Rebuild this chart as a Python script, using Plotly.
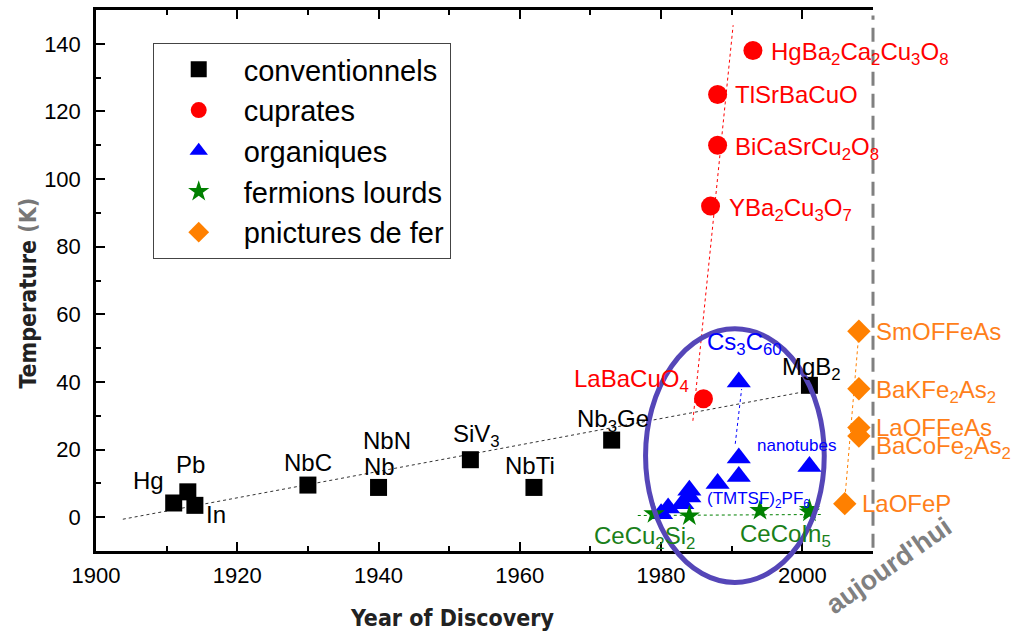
import plotly.graph_objects as go

# ---------------- data ----------------
X_RANGE = [1900, 2010]
Y_RANGE = [-10, 150]

conv_year = [1911, 1913, 1914, 1930, 1940, 1953, 1962, 1973, 2001]
conv_tc = [4.2, 7.5, 3.5, 9.5, 8.8, 17, 8.8, 22.8, 39]
conv_name = ["Hg", "Pb", "In", "NbC", "Nb", "SiV<sub>3</sub>", "NbTi",
             "Nb<sub>3</sub>Ge", "MgB<sub>2</sub>"]

cup_year = [1986, 1987, 1988, 1988, 1993]
cup_tc = [35, 92, 110, 125, 138]
cup_name = ["LaBaCuO<sub>4</sub>", "YBa<sub>2</sub>Cu<sub>3</sub>O<sub>7</sub>",
            "BiCaSrCu<sub>2</sub>O<sub>8</sub>", "TlSrBaCuO",
            "HgBa<sub>2</sub>Ca<sub>2</sub>Cu<sub>3</sub>O<sub>8</sub>"]

org_year = [1980, 1981, 1983, 1984, 1984, 1988, 1991, 1991, 1991, 2001]
org_tc = [1, 2.7, 4, 6, 8, 10, 12, 17.5, 40, 15]
org_name = ["", "", "", "(TMTSF)<sub>2</sub>PF<sub>6</sub>", "", "", "", "",
            "Cs<sub>3</sub>C<sub>60</sub>", "nanotubes"]

fer_year = [1979, 1984, 1994, 2001, 2001]
fer_tc = [1, 0.4, 2, 2.3, 1.5]
fer_name = ["CeCu<sub>2</sub>Si<sub>2</sub>", "", "", "CeCoIn<sub>5</sub>", ""]

pn_year = [2006, 2008, 2008, 2008, 2008]
pn_tc = [4, 24, 26.5, 38, 55]
pn_name = ["LaOFeP", "BaCoFe<sub>2</sub>As<sub>2</sub>", "LaOFFeAs",
           "BaKFe<sub>2</sub>As<sub>2</sub>", "SmOFFeAs"]

# dotted guide lines (year, Tc endpoints)
conv_fit_year = [1903.8, 2000]
conv_fit_tc = [-0.6, 37]
cup_fit_year = [1984.5, 1990.2]
cup_fit_tc = [28.5, 145.5]
org_fit_year = [1990.5, 1991.4]
org_fit_tc = [21.7, 37.9]
fer_fit_year = [1976.7, 2003]
fer_fit_tc = [0.5, 0.8]
pn_fit_year = [2006.1, 2007.9]
pn_fit_tc = [7.5, 52]

# highlighted region (ellipse), in data units
ellipse_year = [1977.8, 2003.1]
ellipse_tc = [-19.3, 55.7]
today_year = 2010

x_ticks = [1900, 1920, 1940, 1960, 1980, 2000]
y_ticks = [0, 20, 40, 60, 80, 100, 120, 140]

# ---------------- style ----------------
FONT = "Liberation Sans, Arial, sans-serif"
TITLE_FONT = "DejaVu Sans Condensed, DejaVu Sans, sans-serif"
RED, BLUE, GREEN, ORANGE = "#FF0000", "#0000FF", "#008000", "#FF8000"
ORANGE_TXT = "#FF7F1A"
GREEN_TXT = "#1A801A"

# label placement: name -> (xanchor, xshift, yshift, size)
label_pos = {
    "Hg": ("right", -8, 22, 24),
    "Pb": ("center", 3, 27, 24),
    "In": ("left", 9, -9, 24),
    "NbC": ("center", 0, 23, 24),
    "Nb": ("center", 1, 21, 24),
    "SiV<sub>3</sub>": ("center", 6, 24, 24),
    "NbTi": ("center", -4, 22, 24),
    "Nb<sub>3</sub>Ge": ("center", 1, 20, 24),
    "MgB<sub>2</sub>": ("center", 2, 17, 24),
    "LaBaCuO<sub>4</sub>": ("right", -12, 18, 24),
    "YBa<sub>2</sub>Cu<sub>3</sub>O<sub>7</sub>": ("left", 16, -3, 24),
    "BiCaSrCu<sub>2</sub>O<sub>8</sub>": ("left", 15, -3, 24),
    "TlSrBaCuO": ("left", 15, 0, 24),
    "HgBa<sub>2</sub>Ca<sub>2</sub>Cu<sub>3</sub>O<sub>8</sub>": ("left", 16, -3, 24),
    "(TMTSF)<sub>2</sub>PF<sub>6</sub>": ("left", 16, -3, 17),
    "Cs<sub>3</sub>C<sub>60</sub>": ("center", 6, 38, 24),
    "nanotubes": ("center", -13, 21, 17),
    "CeCu<sub>2</sub>Si<sub>2</sub>": ("center", -10, -24, 24),
    "CeCoIn<sub>5</sub>": ("center", -24, -26, 24),
    "LaOFeP": ("left", 15, 0, 24),
    "BaCoFe<sub>2</sub>As<sub>2</sub>": ("left", 15, -11, 24),
    "LaOFFeAs": ("left", 15, 0, 24),
    "BaKFe<sub>2</sub>As<sub>2</sub>": ("left", 15, -3, 24),
    "SmOFFeAs": ("left", 15, 0, 24),
}

fig = go.Figure()

# guide lines
for xs, ys, col in [(conv_fit_year, conv_fit_tc, "#333333"),
                    (cup_fit_year, cup_fit_tc, RED),
                    (org_fit_year, org_fit_tc, BLUE),
                    (fer_fit_year, fer_fit_tc, GREEN),
                    (pn_fit_year, pn_fit_tc, ORANGE)]:
    fig.add_trace(go.Scatter(x=xs, y=ys, mode="lines", showlegend=False,
                             hoverinfo="skip",
                             line=dict(color=col, width=1, dash="dot")))

series = [
    ("conventionnels", conv_year, conv_tc, conv_name, "square", 17, "#000000", "#000000"),
    ("cuprates", cup_year, cup_tc, cup_name, "circle", 19, RED, RED),
    ("organiques", org_year, org_tc, org_name, "triangle-up", 21, BLUE, BLUE),
    ("fermions lourds", fer_year, fer_tc, fer_name, "star", 16, GREEN, GREEN_TXT),
    ("pnictures de fer", pn_year, pn_tc, pn_name, "diamond", 18, ORANGE, ORANGE_TXT),
]

annotations = []
for name, xs, ys, labels, sym, size, col, tcol in series:
    fig.add_trace(go.Scatter(x=xs, y=ys, mode="markers", name=name,
                             marker=dict(symbol=sym, size=size, color=col,
                                         line=dict(width=0))))
    for x, y, lab in zip(xs, ys, labels):
        if not lab:
            continue
        xa, dx, dy, fs = label_pos[lab]
        annotations.append(dict(x=x, y=y, xref="x", yref="y", text=lab,
                                showarrow=False, xanchor=xa, yanchor="middle",
                                xshift=dx, yshift=dy,
                                font=dict(family=FONT, size=fs, color=tcol)))

# extra label NbN above Nb
annotations.append(dict(x=conv_year[4], y=conv_tc[4], xref="x", yref="y",
                        text="NbN", showarrow=False, xanchor="center",
                        xshift=8, yshift=47,
                        font=dict(family=FONT, size=24, color="#000000")))


def px(v):
    return (v - X_RANGE[0]) / (X_RANGE[1] - X_RANGE[0])


def py(v):
    return (v - Y_RANGE[0]) / (Y_RANGE[1] - Y_RANGE[0])


shapes = [
    dict(type="circle", xref="paper", yref="paper",
         x0=px(ellipse_year[0]), x1=px(ellipse_year[1]),
         y0=py(ellipse_tc[0]), y1=py(ellipse_tc[1]),
         line=dict(color="#5546B8", width=5), layer="above"),
    dict(type="line", xref="paper", yref="paper",
         x0=px(today_year), x1=px(today_year), y0=0.006, y1=0.99,
         line=dict(color="#808080", width=3, dash="14px,8px"), layer="above"),
]

annotations += [
    dict(text="aujourd'hui", xref="paper", yref="paper", x=1.02, y=-0.028,
         xanchor="center", yanchor="middle",
         showarrow=False, textangle=-35,
         font=dict(family=FONT, size=27, color="#808080", weight="bold")),
    dict(text="<b>Year of Discovery</b>", xref="paper", yref="paper",
         x=0.458, y=-0.123, xanchor="center", yanchor="middle",
         showarrow=False,
         font=dict(family=TITLE_FONT, size=23, color="#222222")),
    dict(text="<b>Temperature <span style='color:#777777'>(K)</span></b>",
         xref="paper", yref="paper", x=-0.0875, y=0.476,
         xanchor="center", yanchor="middle", showarrow=False,
         textangle=-90,
         font=dict(family=TITLE_FONT, size=23, color="#222222")),
]

fig.update_layout(
    width=1012, height=633,
    margin=dict(l=96, r=139, t=7, b=82),
    paper_bgcolor="white", plot_bgcolor="white",
    font=dict(family=FONT, color="#000000"),
    showlegend=True,
    legend=dict(x=0.073, y=0.939, xanchor="left", yanchor="top",
                bgcolor="white", bordercolor="#444444", borderwidth=1,
                font=dict(family=FONT, size=29, color="#000000"),
                itemwidth=80, tracegroupgap=0),
    xaxis=dict(range=X_RANGE, tickvals=x_ticks, showgrid=False, zeroline=False,
               showline=True, linecolor="#000000", linewidth=2.5,
               mirror="ticks", ticks="inside", ticklen=9, tickwidth=2,
               tickcolor="#000000", ticklabelstandoff=3,
               minor=dict(dtick=10, ticks="inside", ticklen=5, tickwidth=2,
                          tickcolor="#000000"),
               tickfont=dict(family=FONT, size=22, color="#000000")),
    yaxis=dict(range=Y_RANGE, tickvals=y_ticks, showgrid=False, zeroline=False,
               showline=True, linecolor="#000000", linewidth=2.5,
               mirror=False, ticks="inside", ticklen=9, tickwidth=2,
               tickcolor="#000000", ticklabelstandoff=8,
               minor=dict(dtick=10, ticks="inside", ticklen=5, tickwidth=2,
                          tickcolor="#000000"),
               tickfont=dict(family=FONT, size=22, color="#000000")),
    shapes=shapes,
    annotations=annotations,
)

fig.write_html("out.html")
